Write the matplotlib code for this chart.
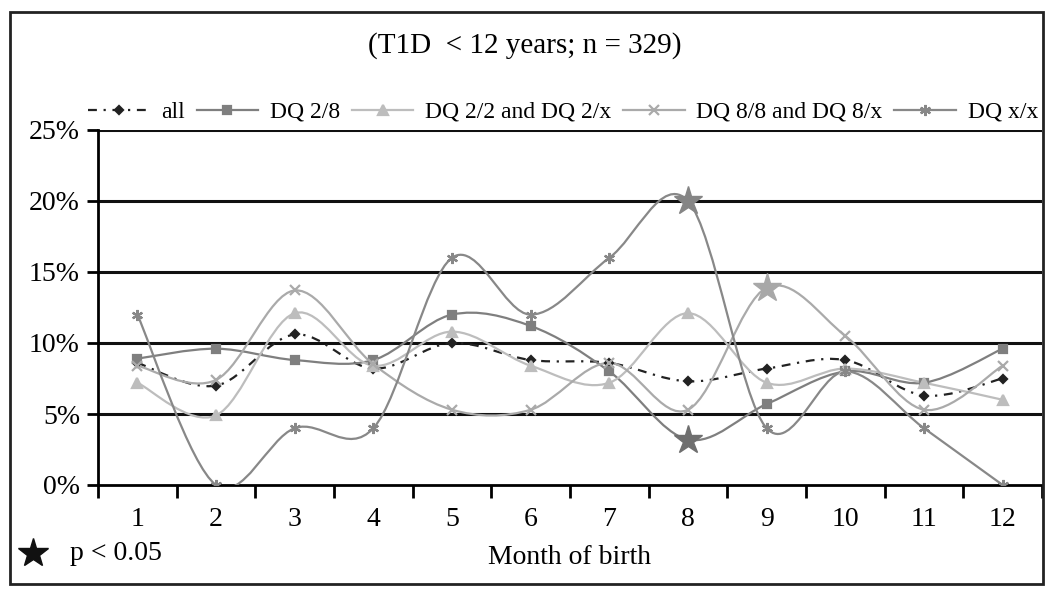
import numpy as np
import matplotlib
matplotlib.use("Agg")
import matplotlib.pyplot as plt
from matplotlib.path import Path
from matplotlib.patches import PathPatch, Rectangle
from matplotlib.lines import Line2D

plt.rcParams['font.family'] = ['Liberation Serif', 'DejaVu Serif']

# data (percent)
months = [1, 2, 3, 4, 5, 6, 7, 8, 9, 10, 11, 12]
all_pct = [8.6, 7.0, 10.6, 8.2, 10.0, 8.8, 8.6, 7.3, 8.2, 8.8, 6.3, 7.5]
dq28 = [8.9, 9.6, 8.8, 8.8, 12.0, 11.2, 8.0, 3.2, 5.7, 8.0, 7.2, 9.6]
dq22 = [7.2, 4.9, 12.1, 8.4, 10.8, 8.4, 7.2, 12.1, 7.2, 8.2, 7.2, 6.0]
dq88 = [8.4, 7.4, 13.7, 8.5, 5.3, 5.3, 8.6, 5.3, 13.9, 10.5, 5.3, 8.4]
dqxx = [12.0, 0.0, 4.0, 4.0, 16.0, 12.0, 16.0, 20.0, 4.0, 8.0, 4.0, 0.0]

labels = ['all', 'DQ 2/8', 'DQ 2/2 and DQ 2/x', 'DQ 8/8 and DQ 8/x', 'DQ x/x']
# months with p < 0.05 (drawn as stars)
sig_months = {'DQ 2/8': [8], 'DQ 8/8 and DQ 8/x': [9], 'DQ x/x': [8]}

title = '(T1D  < 12 years; n = 329)'

series = [all_pct, dq28, dq22, dq88, dqxx]
colors = ['#222222', '#7f7f7f', '#bdbdbd', '#aaaaaa', '#888888']
star_colors = {'DQ 2/8': '#6f6f6f', 'DQ 8/8 and DQ 8/x': '#a8a8a8', 'DQ x/x': '#858585'}
markers = ['D', 's', '^', 'x', (6, 2, 0)]
msizes = [4.5, 6, 7, 7, 8]
lstyles = [(0, (4, 3, 1, 3)), '-', '-', '-', '-']


def smooth_path(xs, ys):
    # Excel-like smoothed line: cubic bezier segments through the points
    pts = np.column_stack([xs, ys]).astype(float)
    n = len(pts)
    verts = [pts[0]]
    codes = [Path.MOVETO]
    for i in range(n - 1):
        p0 = pts[max(i - 1, 0)]
        p1 = pts[i]
        p2 = pts[i + 1]
        p3 = pts[min(i + 2, n - 1)]
        verts += [p1 + (p2 - p0) / 6, p2 - (p3 - p1) / 6, p2]
        codes += [Path.CURVE4] * 3
    return Path(verts, codes)


W, H = 1050, 593
fig = plt.figure(figsize=(W / 100, H / 100), dpi=100)
ax = fig.add_axes([98 / W, 1 - 485 / H, (1042 - 98) / W, (485 - 130) / H])

for vals, lab, c, m, ms, ls in zip(series, labels, colors, markers, msizes, lstyles):
    ax.add_patch(PathPatch(smooth_path(months, vals), fill=False, edgecolor=c,
                           lw=1.6, linestyle=ls, zorder=3))
    sig = sig_months.get(lab, [])
    mx = [x for x in months if x not in sig]
    my = [v for x, v in zip(months, vals) if x not in sig]
    ax.plot(mx, my, linestyle='none', marker=m, ms=ms, color=c, mew=1.6, zorder=4)
    for s in sig:
        ax.plot([s], [vals[months.index(s)]], linestyle='none', marker='*', ms=21,
                color=star_colors[lab], zorder=5)

ax.set_xlim(0.5, 12.5)
ax.set_ylim(0, 25)
ax.set_yticks([0, 5, 10, 15, 20, 25])
ax.set_yticklabels([f'{v}%' for v in [0, 5, 10, 15, 20, 25]], fontsize=20)
ax.set_xticks(months)
ax.set_xticklabels([str(m) for m in months], fontsize=20)
ax.set_xticks(np.arange(0.5, 13, 1), minor=True)
ax.tick_params(axis='x', which='major', length=0, pad=16)
ax.tick_params(axis='x', which='minor', length=9, width=2, direction='out')
ax.tick_params(axis='y', length=8, width=2, direction='out', pad=5)

for v in [5, 10, 15, 20, 25]:
    ax.axhline(v, color='#111111', lw=2.2, zorder=1)
ax.spines['top'].set_visible(False)
ax.spines['right'].set_visible(False)
ax.spines['left'].set_linewidth(2)
ax.spines['bottom'].set_linewidth(2)

# legend row above the plot
handles = [Line2D([], [], color=c, lw=1.6, linestyle=ls, marker=m, ms=ms, mew=1.6, label=lab)
           for lab, c, m, ms, ls in zip(labels, colors, markers, msizes, lstyles)]
fig.legend(handles=handles, loc='center left', bbox_to_anchor=(88 / W, 1 - 112 / H),
           ncol=5, frameon=False, fontsize=17, handlelength=2.6, handletextpad=0.5,
           columnspacing=0.5, borderpad=0, borderaxespad=0)

fig.text(525 / W, 1 - 46 / H, title, ha='center', va='center', fontsize=21)
fig.text(570 / W, 1 - 558 / H, 'Month of birth', ha='center', va='center', fontsize=20)
fig.lines.append(Line2D([33 / W], [1 - 553 / H], marker='*', ms=22, color='#111111',
                        transform=fig.transFigure))
fig.text(70 / W, 1 - 553 / H, 'p < 0.05', ha='left', va='center', fontsize=20)

# frame around the whole figure
fig.patches.append(Rectangle((10 / W, 1 - 584 / H), (1043 - 10) / W, (584 - 12) / H,
                             transform=fig.transFigure, fill=False, lw=2, edgecolor='#222222'))

fig.savefig('out.png', dpi=100)
